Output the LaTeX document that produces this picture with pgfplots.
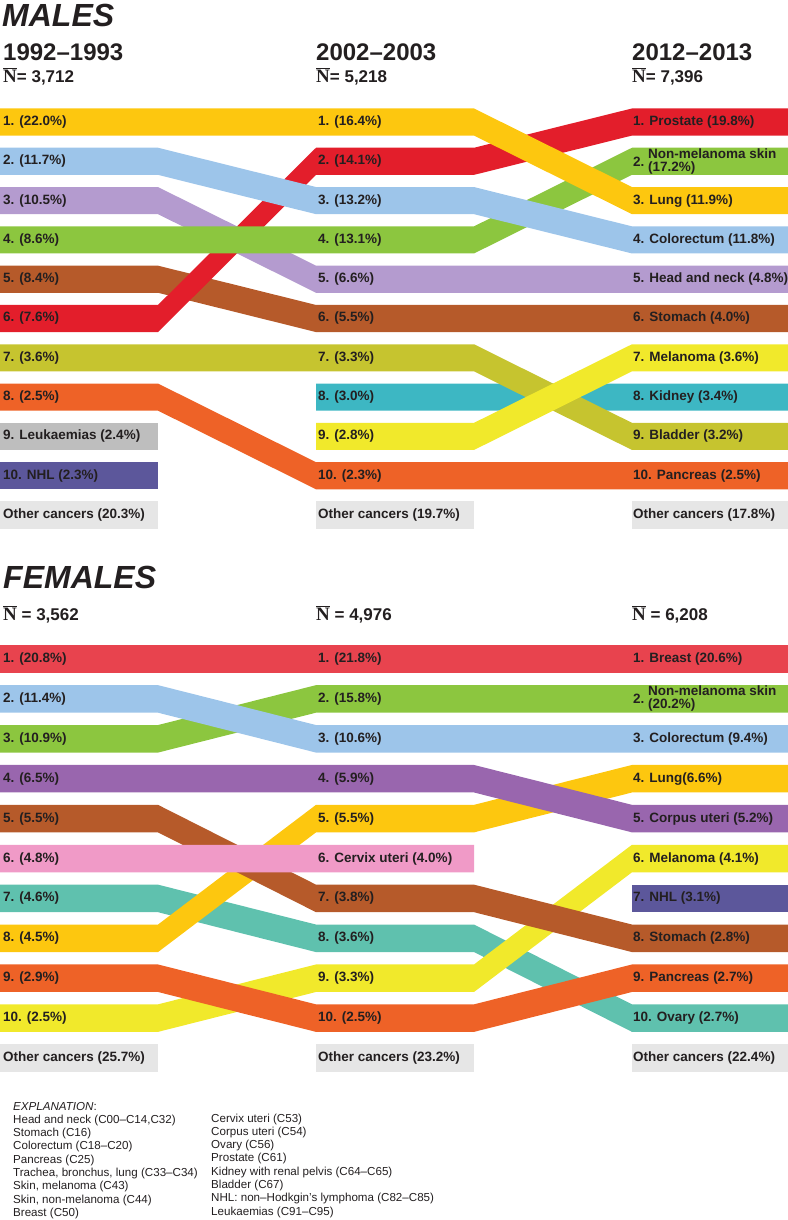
\documentclass[border=0pt]{standalone}
\usepackage{fontspec}
\setmainfont{Liberation Sans}
\newfontfamily\serifN{Liberation Serif}
\usepackage{pgfplots}
\pgfplotsset{compat=1.18}

\definecolor{cLung}{HTML}{FDC70F}
\definecolor{cColo}{HTML}{9DC5EA}
\definecolor{cHN}{HTML}{B49BCF}
\definecolor{cNMSC}{HTML}{8CC63F}
\definecolor{cStom}{HTML}{B65A2A}
\definecolor{cProst}{HTML}{E31E2B}
\definecolor{cBlad}{HTML}{C6C42F}
\definecolor{cPanc}{HTML}{EE6227}
\definecolor{cLeuk}{HTML}{BEBEBE}
\definecolor{cNHL}{HTML}{5C579B}
\definecolor{cKid}{HTML}{3DB7C3}
\definecolor{cMel}{HTML}{F1E92B}
\definecolor{cOther}{HTML}{E6E6E6}
\definecolor{cBreast}{HTML}{E8434E}
\definecolor{cCorp}{HTML}{9966AE}
\definecolor{cCerv}{HTML}{F09AC7}
\definecolor{cOva}{HTML}{5FC1AE}
\definecolor{txt}{HTML}{231F20}

\newcommand\hh{0.345}
% band through all three periods: colour, rank 1992-93, rank 2002-03, rank 2012-13
\newcommand{\bandF}[4]{\addplot[fill=#1,draw=none] table[row sep=\\,y expr=\thisrow{r}-\hh+2*\hh*\thisrow{s}]{x r s\\0 #2 0\\158 #2 0\\316 #3 0\\474 #3 0\\632 #4 0\\788 #4 0\\788 #4 1\\632 #4 1\\474 #3 1\\316 #3 1\\158 #2 1\\0 #2 1\\};}
% band from 2002-03 to 2012-13
\newcommand{\bandR}[3]{\addplot[fill=#1,draw=none] table[row sep=\\,y expr=\thisrow{r}-\hh+2*\hh*\thisrow{s}]{x r s\\316 #2 0\\474 #2 0\\632 #3 0\\788 #3 0\\788 #3 1\\632 #3 1\\474 #2 1\\316 #2 1\\};}
% band from 1992-93 to 2002-03
\newcommand{\bandL}[3]{\addplot[fill=#1,draw=none] table[row sep=\\,y expr=\thisrow{r}-\hh+2*\hh*\thisrow{s}]{x r s\\0 #2 0\\158 #2 0\\316 #3 0\\474 #3 0\\474 #3 1\\316 #3 1\\158 #2 1\\0 #2 1\\};}
% single box: colour, x0, x1, rank
\newcommand{\boxR}[4]{\addplot[fill=#1,draw=none] table[row sep=\\,y expr=\thisrow{r}-\hh+2*\hh*\thisrow{s}]{x r s\\#2 #4 0\\#3 #4 0\\#3 #4 1\\#2 #4 1\\};}

\newcommand\labf{\fontsize{13.5bp}{13bp}\selectfont\bfseries}
\newcommand{\lab}[3]{\node[anchor=west,inner sep=0pt,font=\labf,text=txt] at (axis cs:#1,#2) {#3};}
\newcommand{\Nbar}{{\fontsize{19bp}{19bp}\selectfont\serifN$\overline{\mbox{N}}$}}
\newcommand{\ex}[3]{\node[anchor=base west,inner sep=0pt,font=\fontsize{11.6bp}{13bp}\selectfont,text=txt] at (#1bp,-#2bp) {#3};}

\begin{document}
\begin{tikzpicture}
\useasboundingbox (0bp,0bp) rectangle (788bp,-1220bp);

% ---------- headings ----------
\node[anchor=base west,inner sep=0pt,font=\fontsize{32bp}{32bp}\selectfont\bfseries\itshape,text=txt] at (2bp,-26bp) {MALES};
\node[anchor=base west,inner sep=0pt,font=\fontsize{24bp}{24bp}\selectfont\bfseries,text=txt] at (3bp,-60bp) {1992–1993};
\node[anchor=base west,inner sep=0pt,font=\fontsize{24bp}{24bp}\selectfont\bfseries,text=txt] at (316bp,-60bp) {2002–2003};
\node[anchor=base west,inner sep=0pt,font=\fontsize{24bp}{24bp}\selectfont\bfseries,text=txt] at (632bp,-60bp) {2012–2013};
\node[anchor=base west,inner sep=0pt,font=\fontsize{17bp}{17bp}\selectfont\bfseries,text=txt] at (3bp,-82bp) {\Nbar= 3,712};
\node[anchor=base west,inner sep=0pt,font=\fontsize{17bp}{17bp}\selectfont\bfseries,text=txt] at (316bp,-82bp) {\Nbar= 5,218};
\node[anchor=base west,inner sep=0pt,font=\fontsize{17bp}{17bp}\selectfont\bfseries,text=txt] at (632bp,-82bp) {\Nbar= 7,396};

\node[anchor=base west,inner sep=0pt,font=\fontsize{32bp}{32bp}\selectfont\bfseries\itshape,text=txt] at (3bp,-588bp) {FEMALES};
\node[anchor=base west,inner sep=0pt,font=\fontsize{17bp}{17bp}\selectfont\bfseries,text=txt] at (3bp,-620bp) {\Nbar\ = 3,562};
\node[anchor=base west,inner sep=0pt,font=\fontsize{17bp}{17bp}\selectfont\bfseries,text=txt] at (316bp,-620bp) {\Nbar\ = 4,976};
\node[anchor=base west,inner sep=0pt,font=\fontsize{17bp}{17bp}\selectfont\bfseries,text=txt] at (632bp,-620bp) {\Nbar\ = 6,208};

% ---------- MALES ----------
\begin{axis}[at={(0bp,-102.35bp)},anchor=north west,width=788bp,height=432.3bp,scale only axis,
  xmin=0,xmax=788,ymin=0.5,ymax=11.5,y dir=reverse,hide axis,clip=false]
\boxR{cOther}{0}{158}{11}
\boxR{cOther}{316}{474}{11}
\boxR{cOther}{632}{788}{11}
\boxR{cLeuk}{0}{158}{9}
\boxR{cNHL}{0}{158}{10}
\bandF{cStom}{5}{6}{6}
\bandF{cProst}{6}{2}{1}
\bandF{cHN}{3}{5}{5}
\bandF{cNMSC}{4}{4}{2}
\bandF{cColo}{2}{3}{4}
\bandF{cLung}{1}{1}{3}
\bandF{cPanc}{8}{10}{10}
\bandR{cKid}{8}{8}
\bandF{cBlad}{7}{7}{9}
\bandR{cMel}{9}{7}
% 1992-1993
\lab{3}{1}{1. (22.0\%)}
\lab{3}{2}{2. (11.7\%)}
\lab{3}{3}{3. (10.5\%)}
\lab{3}{4}{4. (8.6\%)}
\lab{3}{5}{5. (8.4\%)}
\lab{3}{6}{6. (7.6\%)}
\lab{3}{7}{7. (3.6\%)}
\lab{3}{8}{8. (2.5\%)}
\lab{3}{9}{9. Leukaemias (2.4\%)}
\lab{3}{10}{10. NHL (2.3\%)}
\lab{3}{11}{Other cancers (20.3\%)}
% 2002-2003
\lab{318}{1}{1. (16.4\%)}
\lab{318}{2}{2. (14.1\%)}
\lab{318}{3}{3. (13.2\%)}
\lab{318}{4}{4. (13.1\%)}
\lab{318}{5}{5. (6.6\%)}
\lab{318}{6}{6. (5.5\%)}
\lab{318}{7}{7. (3.3\%)}
\lab{318}{8}{8. (3.0\%)}
\lab{318}{9}{9. (2.8\%)}
\lab{318}{10}{10. (2.3\%)}
\lab{318}{11}{Other cancers (19.7\%)}
% 2012-2013
\lab{633}{1}{1. Prostate (19.8\%)}
\lab{633}{2}{2.}
\node[anchor=west,inner sep=0pt,font=\labf,text=txt,align=left] at (axis cs:648,2) {Non-melanoma skin\\(17.2\%)};
\lab{633}{3}{3. Lung (11.9\%)}
\lab{633}{4}{4. Colorectum (11.8\%)}
\lab{633}{5}{5. Head and neck (4.8\%)}
\lab{633}{6}{6. Stomach (4.0\%)}
\lab{633}{7}{7. Melanoma (3.6\%)}
\lab{633}{8}{8. Kidney (3.4\%)}
\lab{633}{9}{9. Bladder (3.2\%)}
\lab{633}{10}{10. Pancreas (2.5\%)}
\lab{633}{11}{Other cancers (17.8\%)}
\end{axis}

% ---------- FEMALES ----------
\begin{axis}[at={(0bp,-639.05bp)},anchor=north west,width=788bp,height=438.9bp,scale only axis,
  xmin=0,xmax=788,ymin=0.5,ymax=11.5,y dir=reverse,hide axis,clip=false]
\boxR{cOther}{0}{158}{11}
\boxR{cOther}{316}{474}{11}
\boxR{cOther}{632}{788}{11}
\bandF{cNMSC}{3}{2}{2}
\bandF{cColo}{2}{3}{3}
\bandF{cBreast}{1}{1}{1}
\bandF{cOva}{7}{8}{10}
\bandF{cLung}{8}{5}{4}
\bandF{cCorp}{4}{4}{5}
\bandF{cMel}{10}{9}{6}
\bandF{cStom}{5}{7}{8}
\bandF{cPanc}{9}{10}{9}
\bandL{cCerv}{6}{6}
\boxR{cNHL}{632}{788}{7}
% 1992-1993
\lab{3}{1}{1. (20.8\%)}
\lab{3}{2}{2. (11.4\%)}
\lab{3}{3}{3. (10.9\%)}
\lab{3}{4}{4. (6.5\%)}
\lab{3}{5}{5. (5.5\%)}
\lab{3}{6}{6. (4.8\%)}
\lab{3}{7}{7. (4.6\%)}
\lab{3}{8}{8. (4.5\%)}
\lab{3}{9}{9. (2.9\%)}
\lab{3}{10}{10. (2.5\%)}
\lab{3}{11}{Other cancers (25.7\%)}
% 2002-2003
\lab{318}{1}{1. (21.8\%)}
\lab{318}{2}{2. (15.8\%)}
\lab{318}{3}{3. (10.6\%)}
\lab{318}{4}{4. (5.9\%)}
\lab{318}{5}{5. (5.5\%)}
\lab{318}{6}{6. Cervix uteri (4.0\%)}
\lab{318}{7}{7. (3.8\%)}
\lab{318}{8}{8. (3.6\%)}
\lab{318}{9}{9. (3.3\%)}
\lab{318}{10}{10. (2.5\%)}
\lab{318}{11}{Other cancers (23.2\%)}
% 2012-2013
\lab{633}{1}{1. Breast (20.6\%)}
\lab{633}{2}{2.}
\node[anchor=west,inner sep=0pt,font=\labf,text=txt,align=left] at (axis cs:648,2) {Non-melanoma skin\\(20.2\%)};
\lab{633}{3}{3. Colorectum (9.4\%)}
\lab{633}{4}{4. Lung(6.6\%)}
\lab{633}{5}{5. Corpus uteri (5.2\%)}
\lab{633}{6}{6. Melanoma (4.1\%)}
\lab{633}{7}{7. NHL (3.1\%)}
\lab{633}{8}{8. Stomach (2.8\%)}
\lab{633}{9}{9. Pancreas (2.7\%)}
\lab{633}{10}{10. Ovary (2.7\%)}
\lab{633}{11}{Other cancers (22.4\%)}
\end{axis}

% ---------- explanation ----------
\ex{13}{1110}{\textit{EXPLANATION}:}
\ex{13}{1123.3}{Head and neck (C00–C14,C32)}
\ex{13}{1136.6}{Stomach (C16)}
\ex{13}{1149.9}{Colorectum (C18–C20)}
\ex{13}{1163.2}{Pancreas (C25)}
\ex{13}{1176.5}{Trachea, bronchus, lung (C33–C34)}
\ex{13}{1189.8}{Skin, melanoma (C43)}
\ex{13}{1203.1}{Skin, non-melanoma (C44)}
\ex{13}{1216.4}{Breast (C50)}
\ex{211}{1122}{Cervix uteri (C53)}
\ex{211}{1135.3}{Corpus uteri (C54)}
\ex{211}{1148.6}{Ovary (C56)}
\ex{211}{1161.9}{Prostate (C61)}
\ex{211}{1175.2}{Kidney with renal pelvis (C64–C65)}
\ex{211}{1188.5}{Bladder (C67)}
\ex{211}{1201.8}{NHL: non–Hodkgin's lymphoma (C82–C85)}
\ex{211}{1215.1}{Leukaemias (C91–C95)}
\end{tikzpicture}
\end{document}
